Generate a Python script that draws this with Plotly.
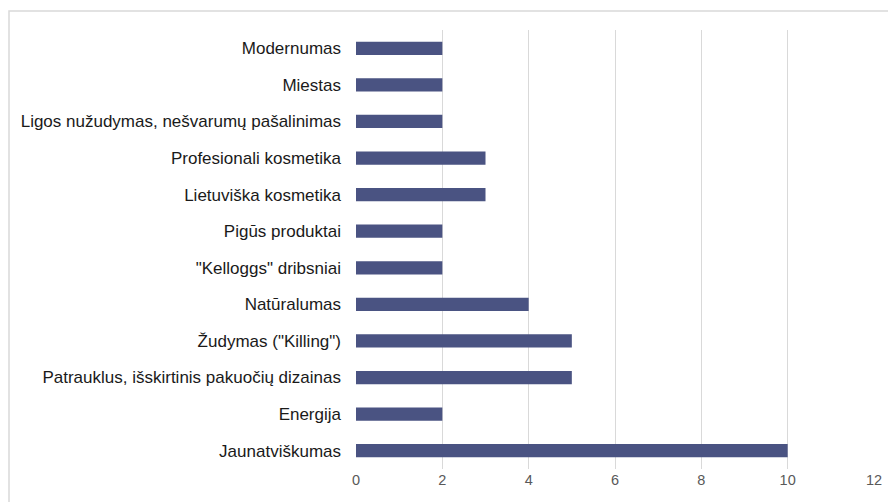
import plotly.graph_objects as go

categories = [
    "Modernumas",
    "Miestas",
    "Ligos nužudymas, nešvarumų pašalinimas",
    "Profesionali kosmetika",
    "Lietuviška kosmetika",
    "Pigūs produktai",
    "\"Kelloggs\" dribsniai",
    "Natūralumas",
    "Žudymas (\"Killing\")",
    "Patrauklus, išskirtinis pakuočių dizainas",
    "Energija",
    "Jaunatviškumas",
]
values = [2, 2, 2, 3, 3, 2, 2, 4, 5, 5, 2, 10]
x_ticks = [0, 2, 4, 6, 8, 10, 12]

W, H = 888, 502
L, R, T, B = 356, 14, 30, 33
pw, ph = W - L - R, H - T - B

fig = go.Figure(go.Bar(
    x=values, y=categories, orientation="h",
    marker=dict(color="#4a5382", line=dict(width=0)),
    hoverinfo="x+y",
))

fig.update_layout(
    width=W, height=H,
    margin=dict(l=L, r=R, t=T, b=B, pad=0, autoexpand=False),
    paper_bgcolor="white", plot_bgcolor="white",
    bargap=0.64,
    showlegend=False,
    font=dict(family="Liberation Sans, Arial, sans-serif", size=14, color="#000000"),
    xaxis=dict(
        range=[0, 12], tickvals=x_ticks, showgrid=True, gridcolor="#d9d9d9", gridwidth=1,
        zeroline=False, showline=False, ticks="", automargin=False,
        tickfont=dict(size=14.5, color="#595959"),
        fixedrange=True,
    ),
    yaxis=dict(
        autorange="reversed", showgrid=False, zeroline=False, showline=False, ticks="",
        automargin=False,
        ticklabelstandoff=14,
        tickfont=dict(size=17, color="#1a1a1a"),
        fixedrange=True,
    ),
    shapes=[dict(
        type="rect", xref="paper", yref="paper",
        x0=(9 - L) / pw, x1=1 + (R + 20) / pw,
        y0=-(B + 20) / ph, y1=1 + (T - 11) / ph,
        line=dict(color="#d9d9d9", width=1.5), fillcolor="rgba(0,0,0,0)",
        layer="below",
    )],
)

fig.write_html("out.html")
